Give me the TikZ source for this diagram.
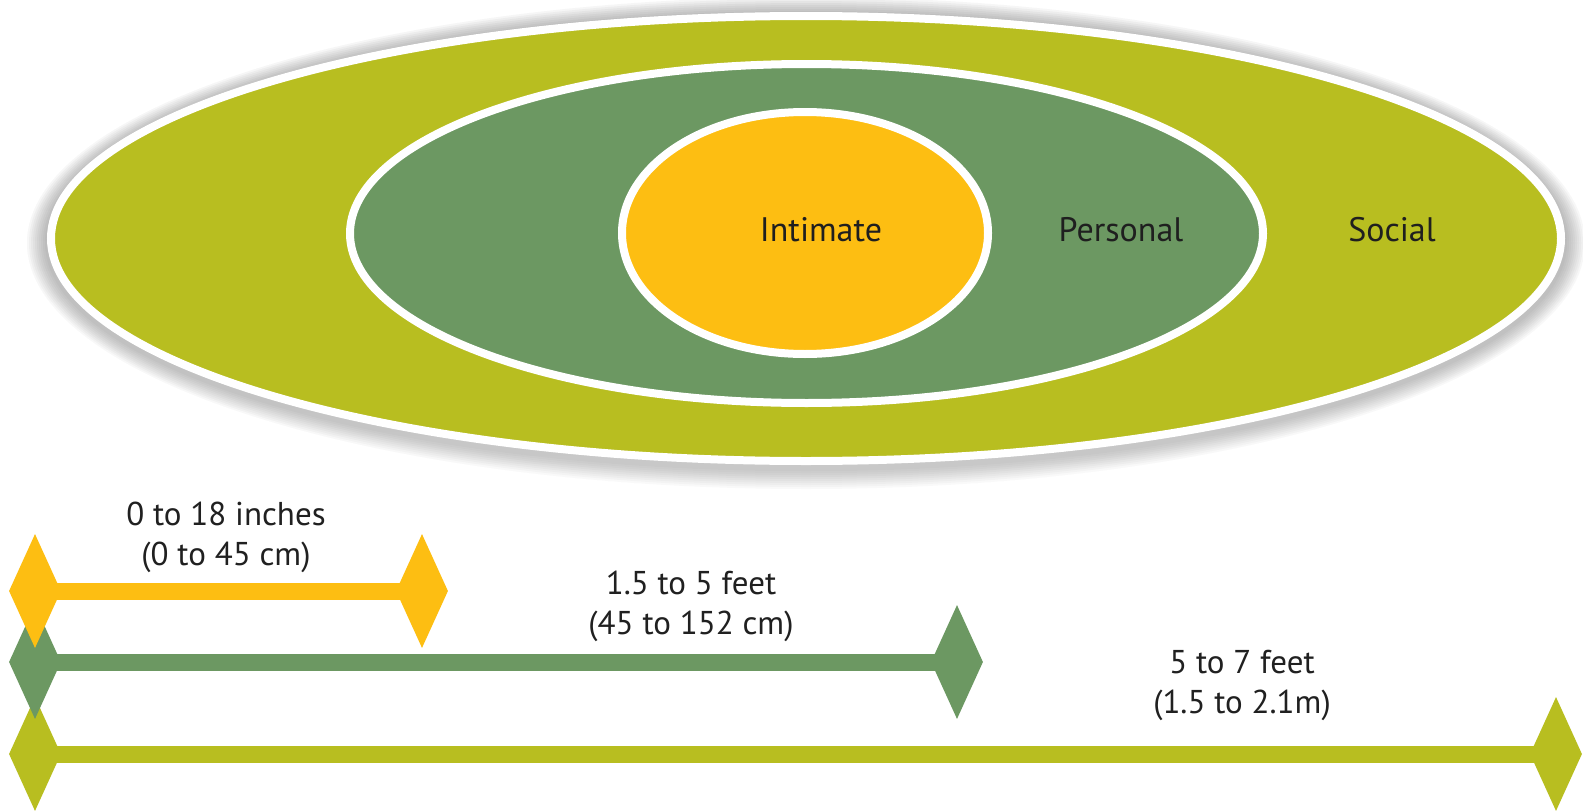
\documentclass[tikz,border=0pt]{standalone}
\usepackage{fontspec}
\setmainfont{PT Sans}
\usetikzlibrary{shapes.geometric,backgrounds}
\definecolor{lime}{RGB}{184,190,32}
\definecolor{pgreen}{RGB}{108,152,98}
\definecolor{iyellow}{RGB}{253,190,18}
\definecolor{txt}{RGB}{32,32,32}
\definecolor{shade}{RGB}{110,110,145}
\begin{document}
\begin{tikzpicture}[x=1pt,y=-1pt,
  zone/.style={ellipse, draw=white, line width=8pt, inner sep=0pt},
  lbl/.style={font=\fontsize{33}{40}\selectfont, text=txt, align=center, inner sep=0pt},
  zlbl/.style={font=\fontsize{34}{36}\selectfont, text=black!88, inner sep=0pt},
  tipbox/.style={diamond, inner sep=0pt, minimum width=52pt, minimum height=114pt},
  barline/.style={line width=17pt}]
\path[use as bounding box] (0,0) rectangle (1583,811);
% soft shadow of the outer zone
\foreach \d in {20,18,...,2}{
  \fill[shade, opacity=0.022] (806,243) ellipse ({759pt+\d pt} and {226pt+\d pt});
}
% zones
\node[zone, fill=lime, minimum width=1510pt, minimum height=445pt] (social) at (806,238.5) {};
\node[zone, fill=pgreen, minimum width=913pt, minimum height=339pt] (personal) at (806.5,233.5) {};
\node[zone, fill=iyellow, minimum width=366pt, minimum height=242pt] (intimate) at (805,233) {};
\node[zlbl] (tI) at (821,230) {Intimate};
\node[zlbl] (tP) at (1121,230) {Personal};
\node[zlbl] (tS) at (1392,230) {Social};
% distance markers
\node[tipbox, fill=lime] (sL) at (35,754) {};
\node[tipbox, fill=lime] (sR) at (1556,754) {};
\node[tipbox, fill=pgreen] (pL) at (35,662) {};
\node[tipbox, fill=pgreen] (pR) at (957,662) {};
\node[tipbox, fill=iyellow] (iL) at (35,591) {};
\node[tipbox, fill=iyellow] (iR) at (422,591) {};
\begin{scope}[on background layer]
  \fill[white] (0,0) rectangle (1583,811);
  \draw[barline, lime] (sL.center) -- (sR.center);
  \draw[barline, pgreen] (pL.center) -- (pR.center);
  \draw[barline, iyellow] (iL.center) -- (iR.center);
\end{scope}
\node[lbl] (a1) at (226,537) {0 to 18 inches\\(0 to 45 cm)};
\node[lbl] (a2) at (691,606) {1.5 to 5 feet\\(45 to 152 cm)};
\node[lbl] (a3) at (1242,685) {5 to 7 feet\\(1.5 to 2.1m)};
\end{tikzpicture}
\end{document}
